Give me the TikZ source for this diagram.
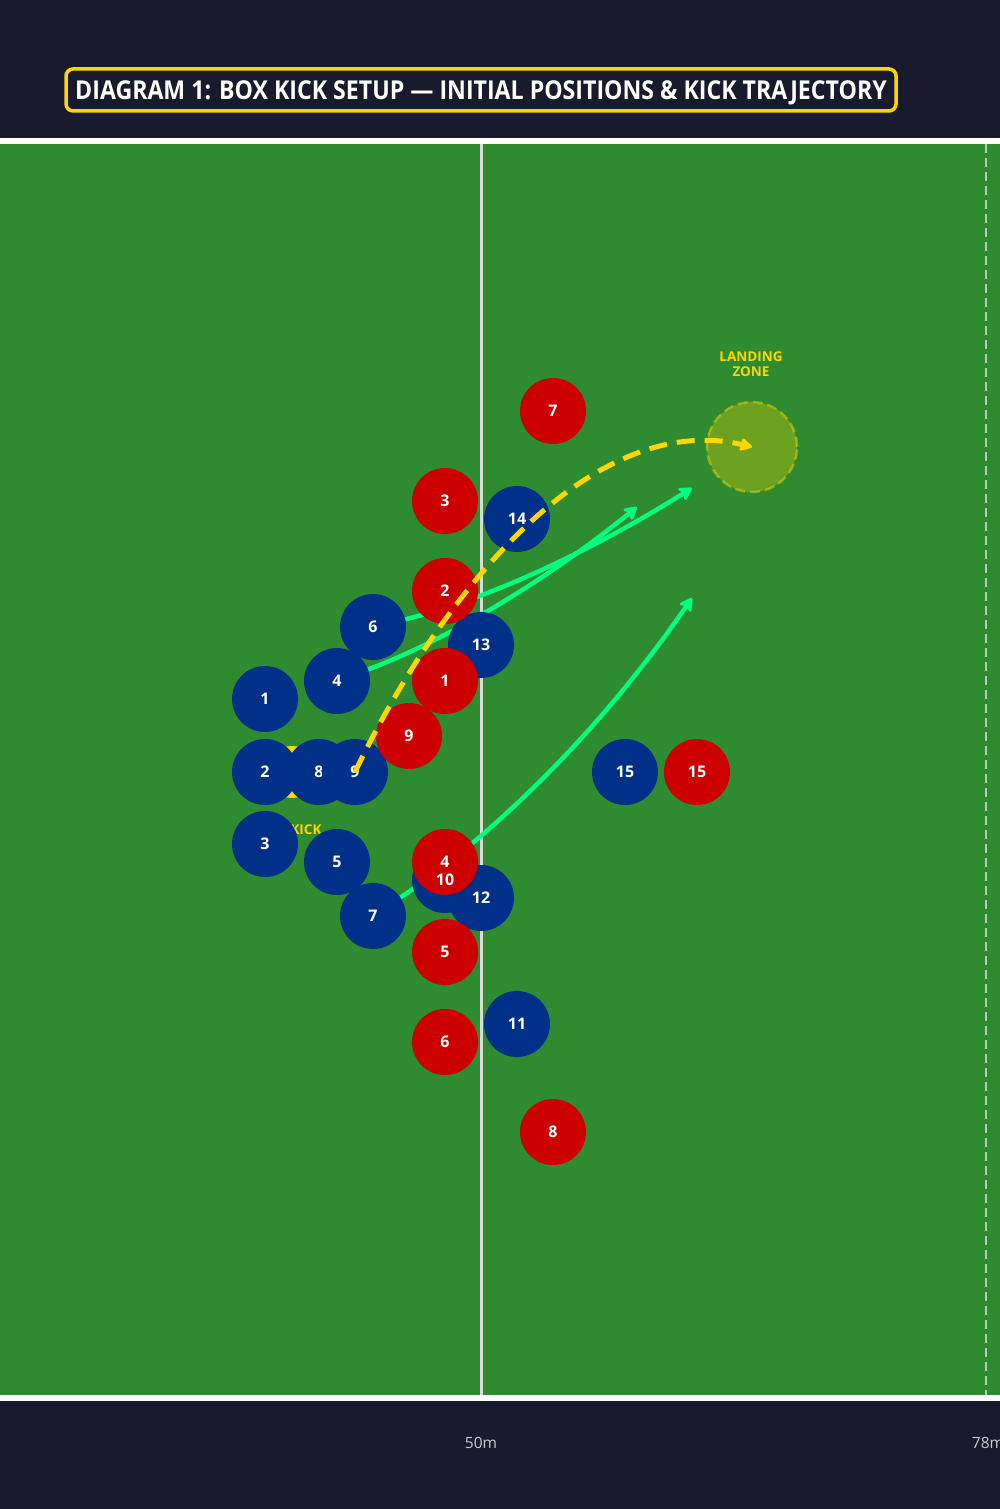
\documentclass[tikz,border=0pt]{standalone}
\usepackage{fontspec}
\setmainfont{Open Sans}
\usetikzlibrary{arrows.meta}

\definecolor{night}{HTML}{1A1A2E}
\definecolor{pitch}{HTML}{2E8B2F}
\definecolor{redshirt}{HTML}{CC0000}
\definecolor{blueshirt}{HTML}{003087}
\definecolor{gold}{HTML}{FFD700}
\definecolor{runline}{HTML}{00FF7F}
\definecolor{marktext}{HTML}{CCCCCC}

\pgfdeclarelayer{under}
\pgfsetlayers{under,main}

\tikzset{
  player/.style={circle, minimum size=66pt, inner sep=0pt, text=white,
    font=\fontsize{16}{16}\selectfont\bfseries},
  redplayer/.style={player, fill=redshirt},
  blueplayer/.style={player, fill=blueshirt},
  numtext/.style={text=white, inner sep=0pt, font=\fontsize{16}{16}\selectfont\bfseries},
  run/.style={runline, line width=4.5pt, -{Stealth[length=16pt,width=18pt,inset=5pt,round]}},
  kickline/.style={gold, line width=5pt, dash pattern=on 18pt off 10pt,
    -{Stealth[length=15pt,width=16pt,inset=4pt,round]}},
  zone/.style={circle, minimum size=90pt, fill=gold, fill opacity=0.3,
    draw=gold, draw opacity=0.45, line width=2.5pt, dash pattern=on 10pt off 5pt},
  callout/.style={text=gold, font=\fontsize{13.5}{15.5}\selectfont\bfseries, align=center},
  metre/.style={text=marktext, font=\fontsize{15.5}{15.5}\selectfont},
}

\begin{document}
\begin{tikzpicture}[x=1pt,y=-1pt]
 \useasboundingbox (0,0) rectangle (1000,1509);

 % pitch
 \begin{pgfonlayer}{under}
 \fill [night] (0,0) rectangle (1000,1509);
 \fill [pitch] (0,144) rectangle (1000,1395);
 \fill [white] (0,138) rectangle (1000,144);
 \fill [white] (0,1395) rectangle (1000,1401);
 \draw [white!85!black, line width=3pt] (481,144) -- (481,1395);
 \draw [white, opacity=0.6, line width=2pt, dash pattern=on 9pt off 5pt] (986,144) -- (986,1395);
 \end{pgfonlayer}

 % title
 \node [draw=gold, line width=3.5pt, fill=night, rounded corners=7pt, minimum width=830pt,
   minimum height=42pt, inner sep=0pt, text depth=0pt, text=white] (title) at (481,90)
   {\fontsize{26}{26}\selectfont\bfseries\scalebox{0.89}[1]{DIAGRAM 1: BOX KICK SETUP --- INITIAL POSITIONS \& KICK TRAJECTORY}};

 \node [metre] (m50) at (481,1443) {50m};
 \node [metre] (m78) at (988,1443) {78m};

 % landing zone and kicker
 \node [zone] (zone) at (752,447) {};
 \node [callout] (zonetext) at (751,364) {LANDING\\ZONE};
 \node [circle, fill=gold, minimum size=52pt] (kicker) at (292,772) {};
 \node [callout] (kicktext) at (306,830) {KICK};

 % blue
 \node [blueplayer] (b14) at (517,519) {14};
 \node [blueplayer] (b6)  at (373,627) {6};
 \node [blueplayer] (b13) at (481,645) {13};
 \node [blueplayer] (b4)  at (337,681) {4};
 \node [blueplayer] (b1)  at (265,699) {1};
 \node [blueplayer] (b2)  at (265,772) {2};
 \node [blueplayer] (b8)  at (319,772) {8};
 \node [blueplayer] (b9)  at (355,772) {9};
 \node [blueplayer] (b15) at (625,772) {15};
 \node [blueplayer] (b3)  at (265,844) {3};
 \node [blueplayer] (b5)  at (337,862) {5};
 \node [blueplayer] (b10) at (445,880) {};
 \node [blueplayer] (b12) at (481,898) {12};
 \node [blueplayer] (b7)  at (373,916) {7};
 \node [blueplayer] (b11) at (517,1024) {11};

 % red
 \node [redplayer] (r7)  at (553,411) {7};
 \node [redplayer] (r3)  at (445,501) {3};
 \node [redplayer] (r2)  at (445,591) {2};
 \node [redplayer] (r1)  at (445,681) {1};
 \node [redplayer] (r9)  at (409,736) {9};
 \node [redplayer] (r15) at (697,772) {15};
 \node [redplayer] (r4)  at (445,862) {4};
 \node [redplayer] (r5)  at (445,952) {5};
 \node [redplayer] (r6)  at (445,1042) {6};
 \node [redplayer] (r8)  at (553,1132) {8};

 \node [numtext] (b10text) at (b10) {10};

 % support runs
 \coordinate (runa) at (692,488);
 \coordinate (runb) at (637,507);
 \coordinate (runc) at (692,598);
 \begin{pgfonlayer}{under}
 \draw [run] (b6) .. controls (478,602) and (584,556) .. (runa);
 \draw [run] (b4) .. controls (442,642) and (542,584) .. (runb);
 \draw [run] (b7) .. controls (498,832) and (604,726) .. (runc);
 \end{pgfonlayer}

 % kick
 \draw [kickline] (b9.center) .. controls (450,575) and (600,410) .. (zone.center);
\end{tikzpicture}
\end{document}
